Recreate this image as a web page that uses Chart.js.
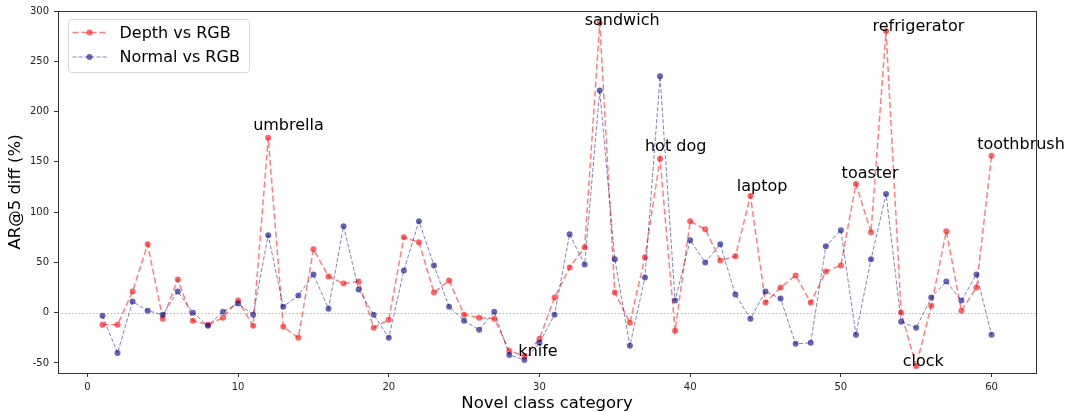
<!DOCTYPE html>
<html>
<head>
<meta charset="utf-8">
<script src="https://cdn.jsdelivr.net/npm/chart.js@4.4.1/dist/chart.umd.min.js"></script>
<style>
  html, body { margin: 0; padding: 0; background: #ffffff; }
  #wrap { width: 1065px; height: 412px; position: relative; }
</style>
</head>
<body>
<div id="wrap"><canvas id="c" width="1065" height="412"></canvas></div>
<script>
// ---- data ----
const categories = Array.from({length: 60}, (_, i) => i + 1);
const depthVsRGB = [
  -12, -12, 21, 68, -6, 33, -8, -12, -5, 12,
  -13, 174, -14, -25, 63, 36, 29, 31, -15, -7,
  75, 70, 20, 32, -2, -5, -6, -38, -43, -26,
  15, 45, 65, 288, 20, -10, 55, 153, -18, 91,
  83, 52, 56, 116, 10, 25, 37, 10, 41, 47,
  128, 80, 280, 0, -53, 7, 81, 2, 25, 156
];
const normalVsRGB = [
  -3, -40, 11, 2, -2, 21, 0, -13, 1, 9,
  -2, 77, 6, 17, 38, 4, 86, 23, -2, -25,
  42, 91, 47, 6, -8, -17, 1, -42, -47, -30,
  -2, 78, 48, 221, 53, -33, 35, 235, 12, 72,
  50, 68, 18, -6, 21, 14, -31, -30, 66, 82,
  -22, 53, 118, -9, -15, 15, 31, 12, 38, -22
];
const seriesNames = ['Depth vs RGB', 'Normal vs RGB'];
const xTicks = [0, 10, 20, 30, 40, 50, 60];
const yTicks = [-50, 0, 50, 100, 150, 200, 250, 300];
const annLabels = ['umbrella', 'knife', 'sandwich', 'hot dog', 'laptop', 'toaster', 'refrigerator', 'clock', 'toothbrush'];
const annX = [11.0, 28.6, 33.0, 37.0, 43.1, 50.05, 52.1, 54.1, 59.05];
const annY = [182, -43, 286, 161, 121, 134, 280, -53, 163];

// ---- styles ----
const FONT = "'DejaVu Sans', sans-serif";
const redLine = 'rgba(255,0,0,0.5)';
const redPoint = 'rgba(255,0,0,0.6)';
const blueLine = 'rgba(0,0,139,0.5)';
const bluePoint = 'rgba(0,0,139,0.6)';

const toXY = arr => arr.map((v, i) => ({x: categories[i], y: v}));

const frameAndZero = {
  id: 'frameAndZero',
  beforeDatasetsDraw(chart) {
    const {ctx, chartArea: a, scales: {y}} = chart;
    const py = Math.round(y.getPixelForValue(0)) + 0.5;
    ctx.save();
    ctx.strokeStyle = 'rgba(128,128,128,0.55)';
    ctx.lineWidth = 1;
    ctx.setLineDash([1.5, 2]);
    ctx.beginPath();
    ctx.moveTo(a.left, py);
    ctx.lineTo(a.right, py);
    ctx.stroke();
    ctx.restore();
  },
  afterDatasetsDraw(chart) {
    const {ctx, chartArea: a, scales: {x, y}} = chart;
    ctx.save();
    // annotations
    ctx.fillStyle = '#000';
    ctx.font = '16px ' + FONT;
    ctx.textAlign = 'left';
    ctx.textBaseline = 'alphabetic';
    annLabels.forEach((t, i) => {
      ctx.fillText(t, x.getPixelForValue(annX[i]), y.getPixelForValue(annY[i]));
    });
    // frame
    ctx.strokeStyle = '#333';
    ctx.lineWidth = 1;
    ctx.setLineDash([]);
    ctx.strokeRect(Math.round(a.left) + 0.5, Math.round(a.top) + 0.5,
                   Math.round(a.right - a.left), Math.round(a.bottom - a.top));
    // legend
    const bx = a.left + 10.5, by = a.top + 8.5, bw = 181, bh = 53;
    ctx.beginPath();
    ctx.roundRect(bx, by, bw, bh, 3);
    ctx.fillStyle = 'rgba(255,255,255,0.8)';
    ctx.fill();
    ctx.strokeStyle = '#d6d6d6';
    ctx.stroke();
    const rows = [
      {line: redLine, pt: redPoint, dash: [6, 3], lw: 1.5, name: seriesNames[0]},
      {line: blueLine, pt: bluePoint, dash: [4, 2], lw: 1, name: seriesNames[1]}
    ];
    rows.forEach((r, i) => {
      const ly = by + 13 + i * 24.5;
      ctx.strokeStyle = r.line;
      ctx.lineWidth = r.lw;
      ctx.setLineDash(r.dash);
      ctx.beginPath();
      ctx.moveTo(bx + 4, ly);
      ctx.lineTo(bx + 38, ly);
      ctx.stroke();
      ctx.setLineDash([]);
      ctx.fillStyle = r.pt;
      ctx.beginPath();
      ctx.arc(bx + 21, ly, 3, 0, Math.PI * 2);
      ctx.fill();
      ctx.fillStyle = '#000';
      ctx.font = '16px ' + FONT;
      ctx.textBaseline = 'middle';
      ctx.fillText(r.name, bx + 51, ly + 1);
    });
    ctx.restore();
  }
};

new Chart(document.getElementById('c'), {
  type: 'line',
  data: {
    datasets: [
      {
        label: seriesNames[0],
        data: toXY(depthVsRGB),
        borderColor: redLine,
        borderWidth: 1.5,
        borderDash: [6, 3],
        pointRadius: 3,
        pointBackgroundColor: redPoint,
        pointBorderColor: redPoint,
        pointBorderWidth: 0,
        tension: 0,
        order: 2
      },
      {
        label: seriesNames[1],
        data: toXY(normalVsRGB),
        borderColor: blueLine,
        borderWidth: 1,
        borderDash: [4, 2],
        pointRadius: 3,
        pointBackgroundColor: bluePoint,
        pointBorderColor: bluePoint,
        pointBorderWidth: 0,
        tension: 0,
        order: 1
      }
    ]
  },
  options: {
    responsive: false,
    animation: false,
    devicePixelRatio: 1,
    layout: {padding: {top: 9, right: 29, left: 0, bottom: 0}},
    plugins: {legend: {display: false}, tooltip: {enabled: false}},
    scales: {
      x: {
        type: 'linear',
        min: -1.95,
        max: 62.95,
        afterBuildTicks: s => { s.ticks = xTicks.map(v => ({value: v})); },
        afterFit: s => { s.height = 39; },
        grid: {drawOnChartArea: false, drawTicks: true, tickLength: 4, tickColor: '#333', tickWidth: 1},
        border: {display: false},
        ticks: {font: {family: FONT, size: 10}, color: '#222', padding: 4, maxRotation: 0, autoSkip: false},
        title: {display: true, text: 'Novel class category', font: {family: FONT, size: 16.5, lineHeight: 1}, color: '#000', padding: {top: 0, bottom: 0}}
      },
      y: {
        type: 'linear',
        min: -60,
        max: 300,
        afterBuildTicks: s => { s.ticks = yTicks.map(v => ({value: v})); },
        afterFit: s => { s.width = 58; },
        grid: {drawOnChartArea: false, drawTicks: true, tickLength: 4, tickColor: '#333', tickWidth: 1},
        border: {display: false},
        ticks: {font: {family: FONT, size: 10}, color: '#222', padding: 5, autoSkip: false},
        title: {display: true, text: 'AR@5 diff (%)', font: {family: FONT, size: 16.5, lineHeight: 1}, color: '#000', padding: {top: 7, bottom: 0}}
      }
    }
  },
  plugins: [frameAndZero]
});
</script>
</body>
</html>
